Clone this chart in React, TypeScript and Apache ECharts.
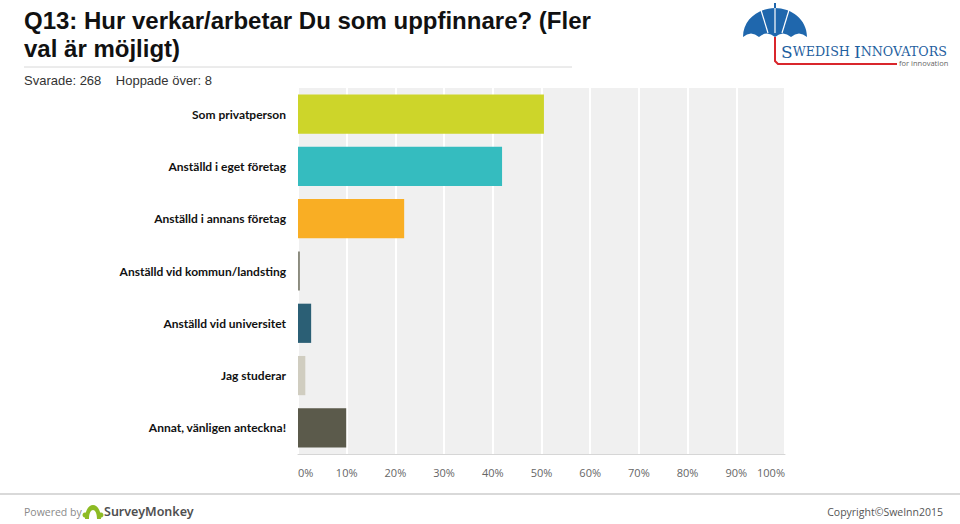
import React, { useEffect, useRef } from "react";
import * as echarts from "echarts";

const categories = [
  "Som privatperson",
  "Anställd i eget företag",
  "Anställd i annans företag",
  "Anställd vid kommun/landsting",
  "Anställd vid universitet",
  "Jag studerar",
  "Annat, vänligen anteckna!",
];
const values = [50.5, 41.9, 21.8, 0.4, 2.7, 1.5, 9.9];
const barColors = ["#cdd52a", "#35bcbf", "#f9ae24", "#8b8b7e", "#2b5f75", "#d0cdc0", "#5b5a4b"];
const xTicks = [0, 10, 20, 30, 40, 50, 60, 70, 80, 90, 100];

const titleLines = ["Q13: Hur verkar/arbetar Du som uppfinnare? (Fler", "val är möjligt)"];
const subtitle = "Svarade: 268    Hoppade över: 8";

let registered = false;
function registerShapes() {
  if (registered) return;
  registered = true;
  const umbrella =
    "M0,30 C0,12 16,1 32,1 C48,1 64,12 64,30 Q56,23 48,30 Q40,23 32,30 Q24,23 16,30 Q8,23 0,30 Z";
  echarts.graphic.registerShape("umbrella", echarts.graphic.extendPath(umbrella, {}) as any);
  const monkey =
    "M0,14 C0,5 4,0 8,0 C12,0 16,5 16,14 L12,14 C12,8 10,5 8,5 C6,5 4,8 4,14 Z";
  echarts.graphic.registerShape("smicon", echarts.graphic.extendPath(monkey, {}) as any);
}

export default function App() {
  const ref = useRef<HTMLDivElement>(null);
  useEffect(() => {
    if (!ref.current) return;
    registerShapes();
    const chart = echarts.init(ref.current, null, { renderer: "svg" });
    chart.setOption({
      animation: false,
      backgroundColor: "#ffffff",
      grid: {
        left: 298,
        right: 175,
        top: 88,
        bottom: 70,
        show: true,
        backgroundColor: "#f0f0f0",
        borderWidth: 0,
      },
      xAxis: {
        type: "value",
        min: 0,
        max: 100,
        interval: 10,
        axisLine: { show: true, lineStyle: { color: "#d6d6d6", width: 1 } },
        axisTick: { show: false },
        splitLine: { show: true, lineStyle: { color: "#ffffff", width: 2 } },
        axisLabel: {
          formatter: (v: number) => (xTicks.includes(v) ? v + "%" : ""),
          color: "#666666",
          fontSize: 11,
          fontFamily: "Open Sans",
          margin: 13,
          alignMinLabel: "left",
          alignMaxLabel: "right",
        },
      },
      yAxis: {
        type: "category",
        data: categories,
        inverse: true,
        axisLine: { show: false },
        axisTick: { show: false },
        axisLabel: {
          color: "#111111",
          fontSize: 12,
          fontWeight: "bold",
          fontFamily: "Lato",
          margin: 12,
          padding: [0, 0, 3, 0],
        },
      },
      series: [
        {
          type: "bar",
          data: values.map((v, i) => ({ value: v, itemStyle: { color: barColors[i] } })),
          barCategoryGap: "25%",
        },
      ],
      graphic: [
        {
          type: "text",
          left: 24,
          top: 6,
          style: {
            text: titleLines.join("\n"),
            font: "bold 24px 'Liberation Sans', Arial, sans-serif",
            fill: "#111111",
            lineHeight: 28,
          },
        },
        {
          type: "line",
          shape: { x1: 24, y1: 67, x2: 572, y2: 67 },
          style: { stroke: "#d8d8d8", lineWidth: 1 },
        },
        {
          type: "text",
          left: 24,
          top: 74,
          style: {
            text: subtitle,
            font: "13px 'Liberation Sans', Arial, sans-serif",
            fill: "#333333",
          },
        },
        // logo
        {
          type: "umbrella",
          x: 743,
          y: 7,
          style: { fill: "#1f67ad" },
        },
        {
          type: "line",
          shape: { x1: 775, y1: 3, x2: 775, y2: 8 },
          style: { stroke: "#1f67ad", lineWidth: 2 },
        },
        {
          type: "polyline",
          shape: { points: [[761, 10], [768, 33]] },
          style: { stroke: "#ffffff", lineWidth: 1.2 },
        },
        {
          type: "polyline",
          shape: { points: [[775, 8], [775, 33]] },
          style: { stroke: "#ffffff", lineWidth: 1.2 },
        },
        {
          type: "polyline",
          shape: { points: [[789, 10], [782, 33]] },
          style: { stroke: "#ffffff", lineWidth: 1.2 },
        },
        {
          type: "polyline",
          shape: { points: [[775, 37], [775, 61], [778, 64], [897, 64]] },
          style: { stroke: "#d9262c", lineWidth: 2, fill: "none" },
        },
        {
          type: "text",
          left: 781,
          top: 43,
          style: {
            text: "{b|S}{s|WEDISH }{b|I}{s|NNOVATORS}",
            fill: "#1f5fa0",
            rich: {
              b: { fontSize: 17, fontFamily: "DejaVu Serif", fill: "#1f5fa0" },
              s: { fontSize: 12.7, fontFamily: "DejaVu Serif", fill: "#1f5fa0" },
            },
          },
        },
        {
          type: "text",
          left: 899,
          top: 59,
          style: {
            text: "for innovation",
            font: "7.5px 'Open Sans', sans-serif",
            fill: "#666666",
          },
        },
        // footer
        {
          type: "line",
          shape: { x1: 0, y1: 494, x2: 960, y2: 494 },
          style: { stroke: "#cccccc", lineWidth: 1.5 },
        },
        {
          type: "text",
          left: 24,
          top: 506,
          style: {
            text: "Powered by",
            font: "10.5px 'Open Sans', sans-serif",
            fill: "#8a8a8a",
          },
        },
        {
          type: "smicon",
          x: 85,
          y: 505,
          style: { fill: "#8dbb24" },
        },
        {
          type: "circle",
          shape: { cx: 85, cy: 515, r: 2.5 },
          style: { fill: "#8dbb24" },
        },
        {
          type: "circle",
          shape: { cx: 101, cy: 515, r: 2.5 },
          style: { fill: "#8dbb24" },
        },
        {
          type: "text",
          left: 104,
          top: 505,
          style: {
            text: "SurveyMonkey",
            font: "600 12.5px 'Noto Sans', sans-serif",
            fill: "#505050",
          },
        },
        {
          type: "text",
          right: 17,
          top: 506,
          style: {
            text: "Copyright©SweInn2015",
            font: "10.5px 'Open Sans', sans-serif",
            fill: "#555555",
          },
        },
      ],
    });
    return () => chart.dispose();
  }, []);
  return <div ref={ref} style={{ width: 960, height: 524, position: "fixed", left: 0, top: 0 }} />;
}
